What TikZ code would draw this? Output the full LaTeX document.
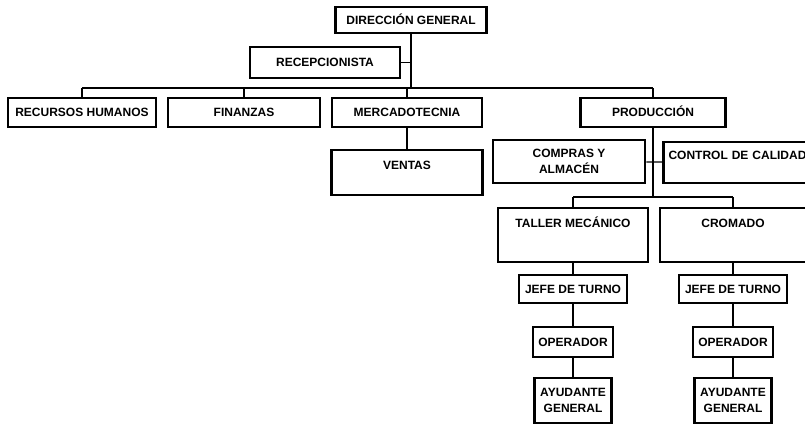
\documentclass[tikz,border=0pt]{standalone}
\usepackage{fontspec}
\setmainfont{Liberation Sans}
\usepackage{tikz}
\tikzset{%
	every unidad/.style={
		draw,
		line width=2.8pt,
		inner sep=0pt,
		align=center,
		font=\bfseries\fontsize{12}{16}\selectfont
	},
	renglon/.style={
		text height=8.6pt,
		text depth=0pt
	},
	linea/.style={
		line width=1.1pt
	},
}

\begin{document}
\begin{tikzpicture}[x=1pt, y=-1pt]
		
		\clip (0,0) rectangle (805,423);
		
		\node [every unidad/.try, renglon, minimum width=151pt, minimum height=26pt] (direccion) at (411,20) {DIRECCIÓN GENERAL};
		\node [every unidad/.try, renglon, minimum width=150pt, minimum height=31pt] (recepcion) at (325,62.5) {RECEPCIONISTA};
		
		\coordinate (barra-1) at (411,88);
		\coordinate (barra-2) at (653,197);
		
		\foreach \m/\x/\w/\l in {rh/82/148/RECURSOS HUMANOS, fin/244/152/FINANZAS, merc/407/150/MERCADOTECNIA, prod/653/145/PRODUCCIÓN}
		\node [every unidad/.try, renglon, minimum width=\w pt, minimum height=29pt] (\m) at (\x,112.5) {\l};
		
		\node [every unidad/.try, minimum width=151pt, text height=19.5pt, text depth=25.5pt] (ventas) at (407,172.5) {VENTAS};
		\node [every unidad/.try, minimum width=152pt, minimum height=43pt] (compras) at (569,161.5) {COMPRAS Y\\ALMACÉN};
		\node [every unidad/.try, text width=143pt, align=left, inner xsep=5pt, text height=17.8pt, text depth=23.2pt] (calidad) at (740,162.5) {CONTROL DE CALIDAD};
		
		\foreach \m/\x/\w/\l in {1/573/150/TALLER MECÁNICO, 2/733/146/CROMADO}
		\node [every unidad/.try, minimum width=\w pt, text height=19.6pt, text depth=34.4pt] (seccion-\m) at (\x,235) {\l};
		
		\foreach \m/\x in {1/573, 2/733} {
			\node [every unidad/.try, renglon, minimum width=108pt, minimum height=28pt] (jefe-\m) at (\x,289) {JEFE DE TURNO};
			\node [every unidad/.try, renglon, minimum width=80pt, minimum height=30pt] (operador-\m) at (\x,342) {OPERADOR};
			\node [every unidad/.try, minimum width=77pt, minimum height=45pt] (ayudante-\m) at (\x,400.5) {AYUDANTE\\GENERAL};
		}
		
		\draw [linea] (direccion.south) -- (barra-1);
		\draw [linea] (recepcion) -- (recepcion -| barra-1);
		\draw [linea] (rh.north |- barra-1) -- (prod.north |- barra-1);
		
		\foreach \m in {rh,fin,merc,prod}
		\draw [linea] (\m) -- (\m.north |- barra-1);
		
		\draw [linea] (merc) -- (ventas);
		\draw [linea] (prod.south) -- (barra-2);
		\draw [linea] (compras) -- (calidad);
		\draw [linea] (seccion-1.north |- barra-2) -- (seccion-2.north |- barra-2);
		
		\foreach \m in {1,2} {
			\draw [linea] (seccion-\m) -- (seccion-\m.north |- barra-2);
			\draw [linea] (seccion-\m) -- (jefe-\m) -- (operador-\m) -- (ayudante-\m);
		}
		
\end{tikzpicture}
\end{document}
